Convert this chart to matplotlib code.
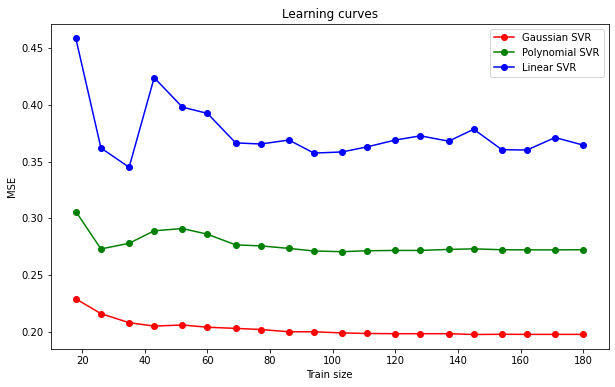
import matplotlib
matplotlib.use("Agg")
import matplotlib.pyplot as plt

# tamaños de entrenamiento
train_sizes = [18, 26, 35, 43, 52, 60, 69, 77, 86, 94,
               103, 111, 120, 128, 137, 145, 154, 162, 171, 180]

# MSE de cada modelo
mse_gaussian = [0.229, 0.216, 0.208, 0.205, 0.206, 0.204, 0.203, 0.202, 0.200, 0.200,
                0.199, 0.1985, 0.1983, 0.1983, 0.1983, 0.1976, 0.1978, 0.1977, 0.1977, 0.1977]
mse_poly = [0.306, 0.273, 0.278, 0.289, 0.291, 0.286, 0.2766, 0.2757, 0.2735, 0.2712,
            0.2706, 0.2714, 0.2717, 0.2717, 0.2726, 0.2731, 0.2723, 0.2722, 0.2722, 0.2723]
mse_linear = [0.4585, 0.362, 0.345, 0.424, 0.398, 0.3925, 0.3665, 0.3655, 0.369, 0.3575,
              0.3585, 0.363, 0.369, 0.3727, 0.368, 0.3785, 0.3605, 0.3602, 0.3712, 0.3645]

fig = plt.figure(figsize=(615 / 72, 387 / 72), dpi=72)
ax = fig.add_axes([50.5 / 615, 1 - 349.3 / 387, (608.7 - 50.5) / 615, (349.3 - 23.7) / 387])

ax.plot(train_sizes, mse_gaussian, 'o-', color='r', label='Gaussian SVR')
ax.plot(train_sizes, mse_poly, 'o-', color='g', label='Polynomial SVR')
ax.plot(train_sizes, mse_linear, 'o-', color='b', label='Linear SVR')

ax.set_title('Learning curves')
ax.set_xlabel('Train size')
ax.set_ylabel('MSE')
ax.legend(loc='upper right')

fig.savefig('out.png', dpi=72)
